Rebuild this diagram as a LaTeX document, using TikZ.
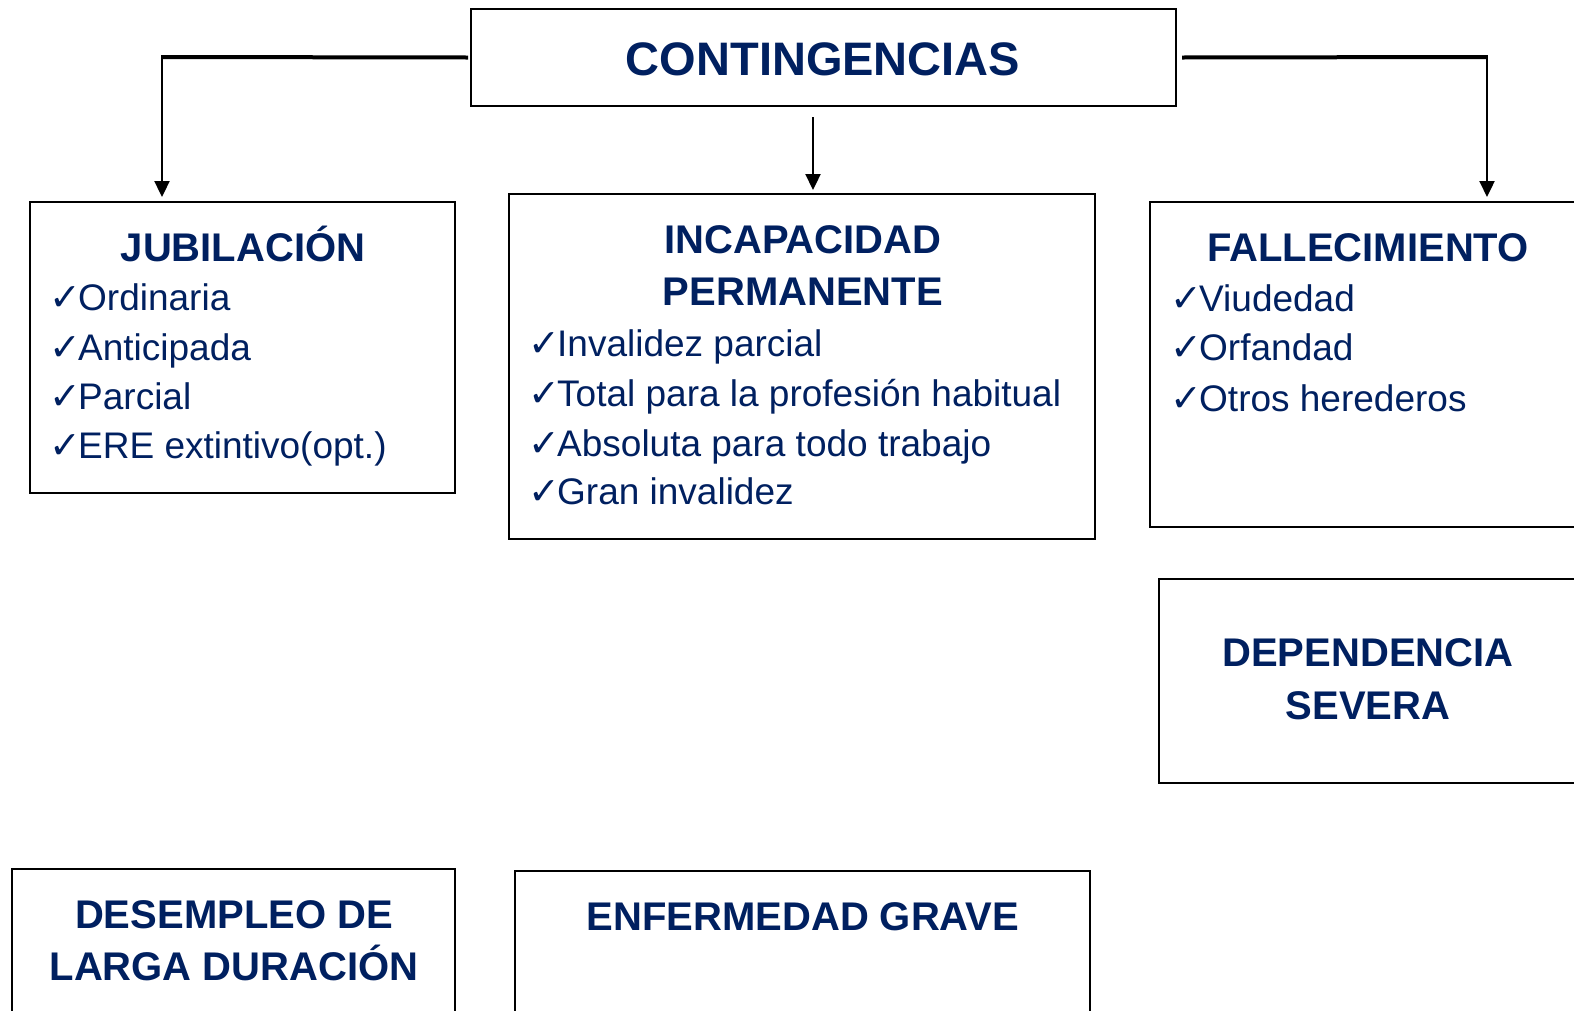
\documentclass[tikz,border=0pt]{standalone}
\usepackage{fontspec}
\setmainfont{Liberation Sans}
\newfontfamily\chkfont{DejaVu Sans}
\usetikzlibrary{arrows.meta}
\definecolor{navy}{RGB}{0,32,96}
\newcommand\chkmark{\makebox[28pt][l]{\hspace{-1pt}\chkfont\fontsize{38pt}{38pt}\selectfont ✓}}
\newcommand\myitem{\fontsize{37pt}{44pt}\selectfont}
\newcommand\mytitle{\fontsize{40pt}{48pt}\selectfont\bfseries}
\newcommand\mybig{\fontsize{47pt}{56pt}\selectfont\bfseries}
\tikzset{
  box/.style={draw=black, line width=2.7pt, inner sep=0pt, outer sep=0pt, fill=white},
  item/.style={anchor=base west, inner sep=0pt, text=navy, font=\myitem},
  ttl/.style={anchor=base, inner sep=0pt, text=navy, font=\mytitle},
  hline/.style={line width=4pt},
  vline/.style={line width=2.3pt, -{Triangle[width=15pt,length=16pt]}},
}
\begin{document}
\begin{tikzpicture}[x=1pt,y=-1pt]
\useasboundingbox (0,0) rectangle (1574,1010);
\clip (0,0) rectangle (1574,1010);
\fill[white] (0,0) rectangle (1574,1010);
% boxes
\node[box, minimum width=705pt, minimum height=97pt] (cont) at (823.5,57.5) {};
\node[box, minimum width=425pt, minimum height=291pt] (jub) at (242.5,347.5) {};
\node[box, minimum width=586pt, minimum height=345pt] (inc) at (802,366.5) {};
\node[box, minimum width=440pt, minimum height=325pt] (fal) at (1370,364.5) {};
\node[box, minimum width=431pt, minimum height=204pt] (dep) at (1374.5,681) {};
\node[box, minimum width=443pt, minimum height=161pt] (des) at (233.5,949.5) {};
\node[box, minimum width=575pt, minimum height=159pt] (enf) at (802.5,950.5) {};
% texts
\node[anchor=base, inner sep=0pt, text=navy, font=\mybig] (tcont) at (823,75) {CONTINGENCIAS};
\node[ttl] (tjub) at (243,261) {JUBILACIÓN};
\node[item] (j1) at (50,310) {\chkmark Ordinaria};
\node[item] (j2) at (50,360) {\chkmark Anticipada};
\node[item] (j3) at (50,409) {\chkmark Parcial};
\node[item] (j4) at (50,458) {\chkmark ERE extintivo(opt.)};
\node[ttl] (tinc1) at (803,253) {INCAPACIDAD};
\node[ttl] (tinc2) at (803,305) {PERMANENTE};
\node[item] (i1) at (529,356) {\chkmark Invalidez parcial};
\node[item] (i2) at (529,406) {\chkmark Total para la profesión habitual};
\node[item] (i3) at (529,456) {\chkmark Absoluta para todo trabajo};
\node[item] (i4) at (529,504) {\chkmark Gran invalidez};
\node[ttl] (tfal) at (1368,261) {FALLECIMIENTO};
\node[item] (f1) at (1171,311) {\chkmark Viudedad};
\node[item] (f2) at (1171,360) {\chkmark Orfandad};
\node[item] (f3) at (1171,411) {\chkmark Otros herederos};
\node[ttl] (tdep1) at (1368,666) {DEPENDENCIA};
\node[ttl] (tdep2) at (1368,719) {SEVERA};
\node[ttl] (tdes1) at (234,928) {DESEMPLEO DE};
\node[ttl] (tdes2) at (234,980) {LARGA DURACIÓN};
\node[ttl] (tenf) at (803,930) {ENFERMEDAD GRAVE};
% connectors
\coordinate (lc) at (162,57);
\coordinate (rc) at (1487,57);
\coordinate (mc) at (813,117);
\draw[hline] ([xshift=-3pt]cont.west) -- (lc);
\draw[vline, shorten >=5pt] ([yshift=2pt]lc) -- (lc |- jub.north);
\draw[hline] ([xshift=6pt]cont.east) -- (rc);
\draw[vline, shorten >=5pt] ([yshift=2pt]rc) -- (rc |- fal.north);
\draw[vline, shorten >=4pt] (mc) -- (mc |- inc.north);
\end{tikzpicture}
\end{document}
